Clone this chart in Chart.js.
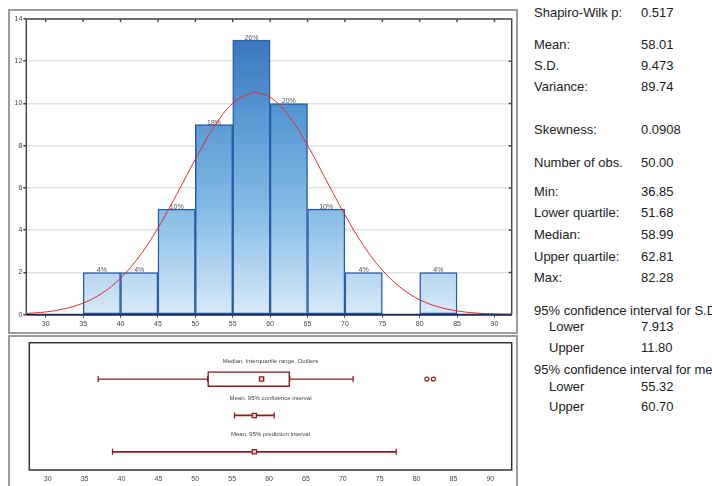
<!DOCTYPE html>
<html>
<head>
<meta charset="UTF-8">
<title>Histogram and descriptive statistics</title>
<style>
  body {
    margin: 0;
    width: 712px;
    height: 486px;
    overflow: hidden;
    background: #fff;
    position: relative;
    font-family: 'Liberation Sans', Arial, sans-serif;
  }
  .frame {
    position: absolute;
    left: 8px;
    width: 506px;
    border: 2px solid #9c9c9c;
  }
  #topFrame { top: 9px; height: 321px; }
  #bottomFrame { top: 335px; height: 170px; border-bottom: none; }
  canvas { position: absolute; left: 0; }
  #histCanvas { top: 0; }
  #boxCanvas { top: 334px; }
  .stat {
    position: absolute;
    font-size: 13px;
    line-height: 16px;
    color: #222;
    white-space: nowrap;
  }
</style>
<script src="https://cdn.jsdelivr.net/npm/chart.js"></script>
</head>
<body>
  <div id="topFrame" class="frame"></div>
  <div id="bottomFrame" class="frame"></div>
  <canvas id="histCanvas" width="520" height="334"></canvas>
  <canvas id="boxCanvas" width="520" height="152"></canvas>
  <div id="stats"></div>

<script>
  // histogram
  const binCenters = [37.5, 42.5, 47.5, 52.5, 57.5, 62.5, 67.5, 72.5, 77.5, 82.5];
  const binCounts = [2, 2, 5, 9, 13, 10, 5, 2, 0, 2];
  const binPercent = ['4%', '4%', '10%', '18%', '26%', '20%', '10%', '4%', '', '4%'];
  const xTicks = [30, 35, 40, 45, 50, 55, 60, 65, 70, 75, 80, 85, 90];
  const yTicks = [0, 2, 4, 6, 8, 10, 12, 14];

  // fitted normal curve
  const curveX = [27.5, 30, 32.5, 35, 37.5, 40, 42.5, 45, 47.5, 50, 52.5, 55, 57.5, 58, 60, 62.5, 65, 67.5, 70, 72.5, 75, 77.5, 80, 82.5, 85, 87.5, 90, 92.5];
  const curveY = [0.06, 0.13, 0.28, 0.55, 1.01, 1.73, 2.76, 4.1, 5.69, 7.36, 8.89, 10.01, 10.51, 10.53, 10.3, 9.41, 8.02, 6.37, 4.73, 3.27, 2.11, 1.27, 0.71, 0.37, 0.18, 0.08, 0.035, 0.014];

  // box plot rows
  const boxMin = 36.85;
  const boxQ1 = 51.68;
  const boxMedian = 58.99;
  const boxQ3 = 62.81;
  const boxWhiskerHigh = 71.4;
  const outliers = [81.4, 82.28];
  const meanValue = 58.01;
  const confInt = [55.32, 60.70];
  const predInt = [38.78, 77.24];
  const rowTitles = ['Median, Interquartile range, Outliers', 'Mean, 95% confidence interval', 'Mean, 95% prediction interval'];

  // right panel
  const statNames = ['Shapiro-Wilk p:', 'Mean:', 'S.D.', 'Variance:', 'Skewness:', 'Number of obs.', 'Min:', 'Lower quartile:', 'Median:', 'Upper quartile:', 'Max:', '95% confidence interval for S.D.', 'Lower', 'Upper', '95% confidence interval for mean', 'Lower', 'Upper'];
  const statValues = ['0.517', '58.01', '9.473', '89.74', '0.0908', '50.00', '36.85', '51.68', '58.99', '62.81', '82.28', '', '7.913', '11.80', '', '55.32', '60.70'];
  const statRowCenters = [13.3, 45, 66, 87.3, 130, 162.7, 191.7, 213.3, 235, 256.7, 278.3, 310.7, 327.3, 348.3, 370, 386.7, 407.3];

  const fontFam = "'Liberation Sans', Arial, sans-serif";
  const darkRed = '#8b1d1d';

  // statistics text
  const statsEl = document.getElementById('stats');
  statNames.forEach((name, i) => {
    const indent = (name === 'Lower' || name === 'Upper');
    const lab = document.createElement('div');
    lab.className = 'stat';
    lab.textContent = name;
    lab.style.left = (indent ? 549 : 534) + 'px';
    lab.style.top = (statRowCenters[i] - 8) + 'px';
    statsEl.appendChild(lab);
    if (statValues[i]) {
      const val = document.createElement('div');
      val.className = 'stat';
      val.textContent = statValues[i];
      val.style.left = '641px';
      val.style.top = (statRowCenters[i] - 8) + 'px';
      statsEl.appendChild(val);
    }
  });

  // gradient for the bars
  function barGradient(context) {
    const chart = context.chart;
    if (!chart.chartArea) return '#7fb5e3';
    const ys = chart.scales.y;
    const y0 = ys.getPixelForValue(0);
    const y1 = ys.getPixelForValue(13);
    const g = chart.ctx.createLinearGradient(0, y0, 0, y1);
    g.addColorStop(0, '#d8eaf8');
    g.addColorStop(2 / 13, '#b6d6f0');
    g.addColorStop(5 / 13, '#84bbe5');
    g.addColorStop(9 / 13, '#5b9bd5');
    g.addColorStop(1, '#3b77bf');
    return g;
  }

  const histDecor = {
    id: 'histDecor',
    afterDatasetsDraw(chart) {
      const ctx = chart.ctx;
      ctx.save();
      ctx.font = '7px ' + fontFam;
      ctx.fillStyle = '#555';
      ctx.textAlign = 'center';
      ctx.textBaseline = 'bottom';
      chart.getDatasetMeta(0).data.forEach((bar, i) => {
        if (binPercent[i]) ctx.fillText(binPercent[i], bar.x, bar.y + 1.5);
      });
      ctx.restore();
    },
    afterDraw(chart) {
      const { ctx, chartArea: a, scales: { x, y } } = chart;
      ctx.save();
      ctx.strokeStyle = '#4a4a4a';
      ctx.lineWidth = 1.5;
      ctx.beginPath();
      ctx.moveTo(a.left, a.bottom);
      ctx.lineTo(a.left, a.top);
      ctx.lineTo(a.right, a.top);
      ctx.lineTo(a.right, a.bottom);
      // inner tick marks on the top and right edges
      xTicks.forEach(v => {
        const px = x.getPixelForValue(v);
        ctx.moveTo(px, a.top);
        ctx.lineTo(px, a.top + 3);
      });
      yTicks.forEach(v => {
        const py = y.getPixelForValue(v);
        ctx.moveTo(a.right - 3, py);
        ctx.lineTo(a.right, py);
      });
      ctx.stroke();
      ctx.strokeStyle = '#1f2d5a';
      ctx.lineWidth = 2;
      ctx.beginPath();
      ctx.moveTo(a.left, a.bottom);
      ctx.lineTo(a.right, a.bottom);
      ctx.stroke();
      ctx.restore();
    }
  };

  new Chart(document.getElementById('histCanvas'), {
    type: 'bar',
    data: {
      datasets: [{
        type: 'bar',
        data: binCenters.map((c, i) => ({ x: c, y: binCounts[i] })),
        backgroundColor: barGradient,
        borderColor: '#2a5caa',
        borderWidth: 1.5,
        borderSkipped: false,
        barPercentage: 1,
        categoryPercentage: 1,
        order: 2
      }, {
        type: 'line',
        data: curveX.map((c, i) => ({ x: c, y: curveY[i] })),
        borderColor: '#e8262b',
        borderWidth: 1,
        pointRadius: 0,
        tension: 0.4,
        order: 1
      }]
    },
    options: {
      responsive: false,
      animation: false,
      events: [],
      layout: { padding: { top: 19, right: 8.3, left: 0, bottom: 0 } },
      plugins: { legend: { display: false }, tooltip: { enabled: false } },
      scales: {
        x: {
          type: 'linear',
          offset: false,
          min: 27.4,
          max: 92.3,
          afterBuildTicks: s => { s.ticks = xTicks.map(v => ({ value: v })); },
          afterFit: s => { s.height = 19.3; },
          border: { display: false },
          grid: { offset: false, drawOnChartArea: false, drawTicks: true, tickLength: 3, tickColor: '#444' },
          ticks: { font: { size: 7, family: fontFam }, color: '#444', padding: 2, maxRotation: 0, autoSkip: false }
        },
        y: {
          min: 0,
          max: 14,
          afterBuildTicks: s => { s.ticks = yTicks.map(v => ({ value: v })); },
          afterFit: s => { s.width = 26.3; },
          border: { display: false },
          grid: { color: '#e2e2e2', lineWidth: 1.5, tickLength: 3, tickColor: '#444' },
          ticks: { font: { size: 7, family: fontFam }, color: '#444', padding: 1 }
        }
      }
    },
    plugins: [histDecor]
  });

  const boxDecor = {
    id: 'boxDecor',
    afterDraw(chart) {
      const { ctx, chartArea: a, scales: { y } } = chart;
      ctx.save();
      ctx.font = '6px ' + fontFam;
      ctx.fillStyle = '#444';
      ctx.textAlign = 'center';
      ctx.textBaseline = 'middle';
      rowTitles.forEach((t, i) => {
        ctx.fillText(t, (a.left + a.right) / 2, y.getPixelForValue(3 - i + 0.48));
      });
      ctx.strokeStyle = '#333';
      ctx.lineWidth = 1.5;
      ctx.strokeRect(a.left, a.top, a.width, a.height);
      ctx.restore();
    }
  };

  const capLine = {
    type: 'line',
    borderColor: darkRed,
    pointStyle: 'line',
    pointRotation: 90,
    pointRadius: 3,
    pointBorderWidth: 1.3,
    pointBorderColor: darkRed,
    order: 5
  };

  new Chart(document.getElementById('boxCanvas'), {
    type: 'scatter',
    data: {
      datasets: [
        Object.assign({}, capLine, { data: [{ x: boxMin, y: 3 }, { x: boxQ1, y: 3 }], borderWidth: 1.3 }),
        Object.assign({}, capLine, { data: [{ x: boxQ3, y: 3 }, { x: boxWhiskerHigh, y: 3 }], borderWidth: 1.3 }),
        {
          type: 'bar',
          indexAxis: 'y',
          data: [{ x: [boxQ1, boxQ3], y: 3 }],
          backgroundColor: '#ffffff',
          borderColor: darkRed,
          borderWidth: 1.5,
          borderSkipped: false,
          barThickness: 15,
          order: 10
        },
        Object.assign({}, capLine, { data: [{ x: confInt[0], y: 2 }, { x: confInt[1], y: 2 }], borderWidth: 1.8 }),
        Object.assign({}, capLine, { data: [{ x: predInt[0], y: 1 }, { x: predInt[1], y: 1 }], borderWidth: 1.8 }),
        {
          type: 'scatter',
          data: [{ x: boxMedian, y: 3 }, { x: meanValue, y: 2 }, { x: meanValue, y: 1 }],
          pointStyle: 'rect',
          pointRadius: 3,
          pointBorderWidth: 1.3,
          pointBorderColor: darkRed,
          pointBackgroundColor: '#f3d6d6',
          order: 0
        },
        {
          type: 'scatter',
          data: outliers.map(v => ({ x: v, y: 3 })),
          pointStyle: 'circle',
          pointRadius: 2,
          pointBorderWidth: 1.2,
          pointBorderColor: darkRed,
          pointBackgroundColor: '#ffffff',
          order: 0
        }
      ]
    },
    options: {
      responsive: false,
      animation: false,
      events: [],
      layout: { padding: { top: 8.7, right: 8.3, left: 29.3, bottom: 0 } },
      plugins: { legend: { display: false }, tooltip: { enabled: false } },
      scales: {
        x: {
          type: 'linear',
          offset: false,
          min: 27.5,
          max: 92.9,
          afterBuildTicks: s => { s.ticks = xTicks.map(v => ({ value: v })); },
          afterFit: s => { s.height = 16; },
          border: { display: false },
          grid: { display: false, drawTicks: false },
          ticks: { font: { size: 7, family: fontFam }, color: '#444', padding: 5, maxRotation: 0, autoSkip: false }
        },
        y: {
          type: 'linear',
          display: false,
          offset: false,
          grid: { offset: false },
          min: 0.5,
          max: 4
        }
      }
    },
    plugins: [boxDecor]
  });
</script>
</body>
</html>
